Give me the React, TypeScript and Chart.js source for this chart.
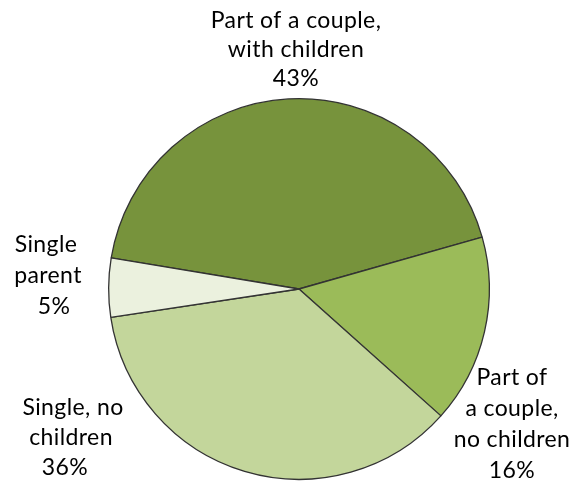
import React, { useEffect, useRef } from "react";
import { Chart, registerables } from "chart.js";

Chart.register(...registerables);

const categories = [
  "Part of a couple, with children",
  "Part of a couple, no children",
  "Single, no children",
  "Single parent",
];
const values = [43, 16, 36, 5];
const colors = ["#77933C", "#9BBB59", "#C3D69B", "#EBF1DE"];
const labelLines = [
  ["Part of a couple,", "with children", "43%"],
  ["Part of", "a couple,", "no children", "16%"],
  ["Single, no", "children", "36%"],
  ["Single", "parent", "5%"],
];
// label anchor (centre of first line) relative to pie centre, in px
const labelAnchors = [
  [-3, -268],
  [213, 89],
  [-226, 119],
  [-253, -44],
];
const lineHeights = [29, 31, 30, 31];
const lineShifts = [
  [0, 0, 0],
  [0, 0, 0, 0],
  [0, -2, -8],
  [0, 2, 8],
];

const labelPlugin = {
  id: "outerLabels",
  afterDatasetsDraw(chart: any) {
    const ctx = chart.ctx;
    const arc = chart.getDatasetMeta(0).data[0];
    const cx = arc.x;
    const cy = arc.y;
    ctx.save();
    ctx.fillStyle = "#000";
    ctx.font = "23px Lato";
    (ctx as any).letterSpacing = "0.4px";
    ctx.textAlign = "center";
    ctx.textBaseline = "middle";
    labelLines.forEach((lines, i) => {
      const [ax, ay] = labelAnchors[i];
      lines.forEach((t, j) => {
        ctx.fillText(t, cx + ax + lineShifts[i][j], cy + ay + j * lineHeights[i]);
      });
    });
    ctx.restore();
  },
};

export default function App() {
  const ref = useRef<HTMLCanvasElement | null>(null);
  useEffect(() => {
    if (!ref.current) return;
    const chart = new Chart(ref.current, {
      type: "pie",
      data: {
        labels: categories,
        datasets: [
          {
            data: values,
            backgroundColor: colors,
            borderColor: "#333333",
            borderWidth: 1.3,
          },
        ],
      },
      options: {
        responsive: false,
        animation: false,
        rotation: 279.4,
        layout: { padding: { top: 98, left: 108, right: 83, bottom: 1 } },
        plugins: {
          legend: { display: false },
          tooltip: { enabled: false },
        },
      },
      plugins: [labelPlugin],
    });
    return () => chart.destroy();
  }, []);
  return (
    <div style={{ position: "absolute", left: 0, top: 0, width: 573, height: 481, background: "#fff" }}>
      <canvas ref={ref} width={573} height={481} />
    </div>
  );
}
